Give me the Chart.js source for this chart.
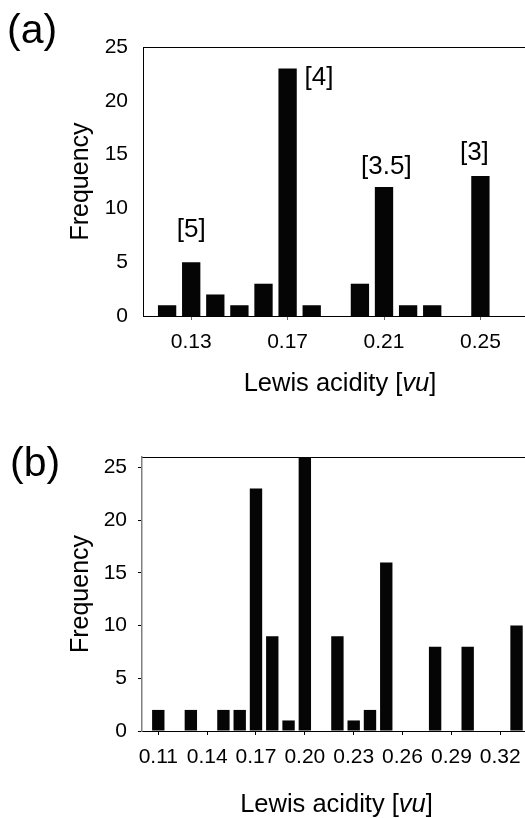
<!DOCTYPE html>
<html>
<head>
<meta charset="utf-8">
<title>Lewis acidity histograms</title>
<script src="https://cdn.jsdelivr.net/npm/chart.js@4.4.1/dist/chart.umd.min.js"></script>
<style>
    body { margin: 0; background: #fff; }
    #page { position: relative; width: 525px; height: 818px; overflow: hidden; font-family: 'Liberation Sans', Arial, sans-serif; }
    .panel { position: absolute; left: 0; width: 525px; }
    .tag { position: absolute; font-size: 41px; line-height: 41px; color: #000; }
</style>
</head>
<body>
<div id="page">
    <div class="panel" style="top:0;height:400px"><canvas id="chart-a"></canvas></div>
    <div class="panel" style="top:400px;height:418px"><canvas id="chart-b"></canvas></div>
    <div class="tag" style="left:7px;top:9px">(a)</div>
    <div class="tag" style="left:10px;top:442px">(b)</div>
</div>
<script>
// panel (a)
const binsA = [0.12, 0.13, 0.14, 0.15, 0.16, 0.17, 0.18, 0.19, 0.20, 0.21, 0.22, 0.23, 0.24, 0.25];
const countsA = [1, 5, 2, 1, 3, 23, 1, 0, 3, 12, 1, 1, 0, 13];
const xTicksA = ['0.13', '0.17', '0.21', '0.25'];
const yTicksA = [0, 5, 10, 15, 20, 25];
const peakLabels = ['[5]', '[4]', '[3.5]', '[3]'];
const peakX = [0.13, 0.183, 0.211, 0.2475];
const peakY = [8, 22.1, 13.85, 15.2];

// panel (b)
const binsB = [0.11, 0.12, 0.13, 0.14, 0.15, 0.16, 0.17, 0.18, 0.19, 0.20, 0.21, 0.22,
               0.23, 0.24, 0.25, 0.26, 0.27, 0.28, 0.29, 0.30, 0.31, 0.32, 0.33];
const countsB = [2, 0, 2, 0, 2, 2, 23, 9, 1, 26, 0, 9, 1, 2, 16, 0, 0, 8, 0, 8, 0, 0, 10];
const xTicksB = ['0.11', '0.14', '0.17', '0.20', '0.23', '0.26', '0.29', '0.32'];
const yTicksB = [0, 5, 10, 15, 20, 25];

const FONT = "'Liberation Sans', Arial, sans-serif";

// labels over the peaks, only on panel (a)
const peakLabelPlugin = {
    id: 'peakLabels',
    afterDatasetsDraw(chart) {
        const { ctx, scales: { x, y } } = chart;
        ctx.save();
        ctx.font = `26px ${FONT}`;
        ctx.fillStyle = '#000';
        ctx.textAlign = 'center';
        ctx.textBaseline = 'middle';
        peakLabels.forEach((t, i) => {
            ctx.fillText(t, x.getPixelForValue(peakX[i]), y.getPixelForValue(peakY[i]));
        });
        ctx.restore();
    }
};

// x title has an italic unit, so it is drawn by hand
const xTitlePlugin = {
    id: 'xTitle',
    afterDraw(chart, args, opts) {
        const { ctx, chartArea } = chart;
        const parts = [['Lewis acidity [', ''], ['vu', 'italic '], [']', '']];
        ctx.save();
        ctx.fillStyle = '#000';
        ctx.textBaseline = 'alphabetic';
        ctx.textAlign = 'left';
        const widths = parts.map(([t, style]) => {
            ctx.font = `${style}25.5px ${FONT}`;
            return ctx.measureText(t).width;
        });
        const total = widths.reduce((a, b) => a + b, 0);
        let x = (chartArea.left + chartArea.right) / 2 + opts.shift - total / 2;
        const y = chartArea.bottom + opts.gap;
        parts.forEach(([t, style], i) => {
            ctx.font = `${style}25.5px ${FONT}`;
            ctx.fillText(t, x, y);
            x += widths[i];
        });
        ctx.restore();
    }
};

const makeChart = (canvas, bins, counts, cfg) => new Chart(canvas, {
    type: 'bar',
    data: {
        datasets: [{
            data: bins.map((b, i) => ({ x: b, y: counts[i] })),
            backgroundColor: '#050505',
            borderWidth: 0,
            barPercentage: 0.76,
            categoryPercentage: 1,
            xAxisID: 'x',
            yAxisID: 'y'
        }]
    },
    options: {
        responsive: true,
        maintainAspectRatio: false,
        animation: false,
        layout: { padding: { top: cfg.top, left: 0, right: 0, bottom: 0 } },
        plugins: {
            legend: { display: false },
            tooltip: { enabled: false },
            xTitle: { shift: cfg.titleShift, gap: cfg.titleGap }
        },
        scales: {
            x: {
                type: 'linear',
                min: cfg.xMin,
                max: cfg.xMax,
                offset: false,
                afterBuildTicks: (scale) => { scale.ticks = cfg.xTicks.map(v => ({ value: parseFloat(v) })); },
                afterFit: (scale) => { scale.height = cfg.xAxisHeight; scale.paddingLeft = 0; scale.paddingRight = 0; },
                ticks: {
                    callback: (v, i) => cfg.xTicks[i],
                    font: { family: FONT, size: 21 },
                    color: '#000',
                    padding: 10,
                    maxRotation: 0,
                    autoSkip: false
                },
                grid: { display: true, drawOnChartArea: false, drawTicks: true, tickLength: 4, offset: false, color: cfg.xTickColor },
                border: { display: true, color: '#000', width: 1 }
            },
            frame: {
                type: 'linear',
                position: 'top',
                ticks: { display: false },
                grid: { display: false, drawTicks: false },
                border: { display: true, color: '#000', width: 1 },
                afterFit: (scale) => { scale.height = 0; }
            },
            y: {
                min: 0,
                max: cfg.yMax,
                afterBuildTicks: (scale) => { scale.ticks = cfg.yTicks.map(v => ({ value: v })); },
                afterFit: (scale) => { scale.width = cfg.yAxisWidth; },
                ticks: { font: { family: FONT, size: 21 }, color: '#000', padding: cfg.yTickPad },
                grid: { display: cfg.yTickMarks, drawOnChartArea: false, drawTicks: cfg.yTickMarks, tickLength: 4, color: '#000' },
                border: { display: true, color: cfg.yAxisColor, width: cfg.yAxisLine },
                title: {
                    display: true,
                    text: 'Frequency',
                    font: { family: FONT, size: 25 },
                    color: '#000',
                    padding: { top: 66, bottom: 0 }
                }
            }
        }
    },
    plugins: cfg.extra ? [xTitlePlugin, cfg.extra] : [xTitlePlugin]
});

makeChart(document.getElementById('chart-a'), binsA, countsA, {
    top: 47, xMin: 0.11, xMax: 0.2685, yMax: 25,
    xTicks: xTicksA, yTicks: yTicksA,
    xAxisHeight: 84, yAxisWidth: 143, yTickPad: 15, yTickMarks: false,
    yAxisColor: '#000', yAxisLine: 1, xTickColor: '#666',
    titleShift: 6, titleGap: 75,
    extra: peakLabelPlugin
});

makeChart(document.getElementById('chart-b'), binsB, countsB, {
    top: 57, xMin: 0.10, xMax: 0.3352, yMax: 26,
    xTicks: xTicksB, yTicks: yTicksB,
    xAxisHeight: 87, yAxisWidth: 142, yTickPad: 11, yTickMarks: true,
    yAxisColor: '#808080', yAxisLine: 1.5, xTickColor: '#000',
    titleShift: 3, titleGap: 81
});
</script>
</body>
</html>
